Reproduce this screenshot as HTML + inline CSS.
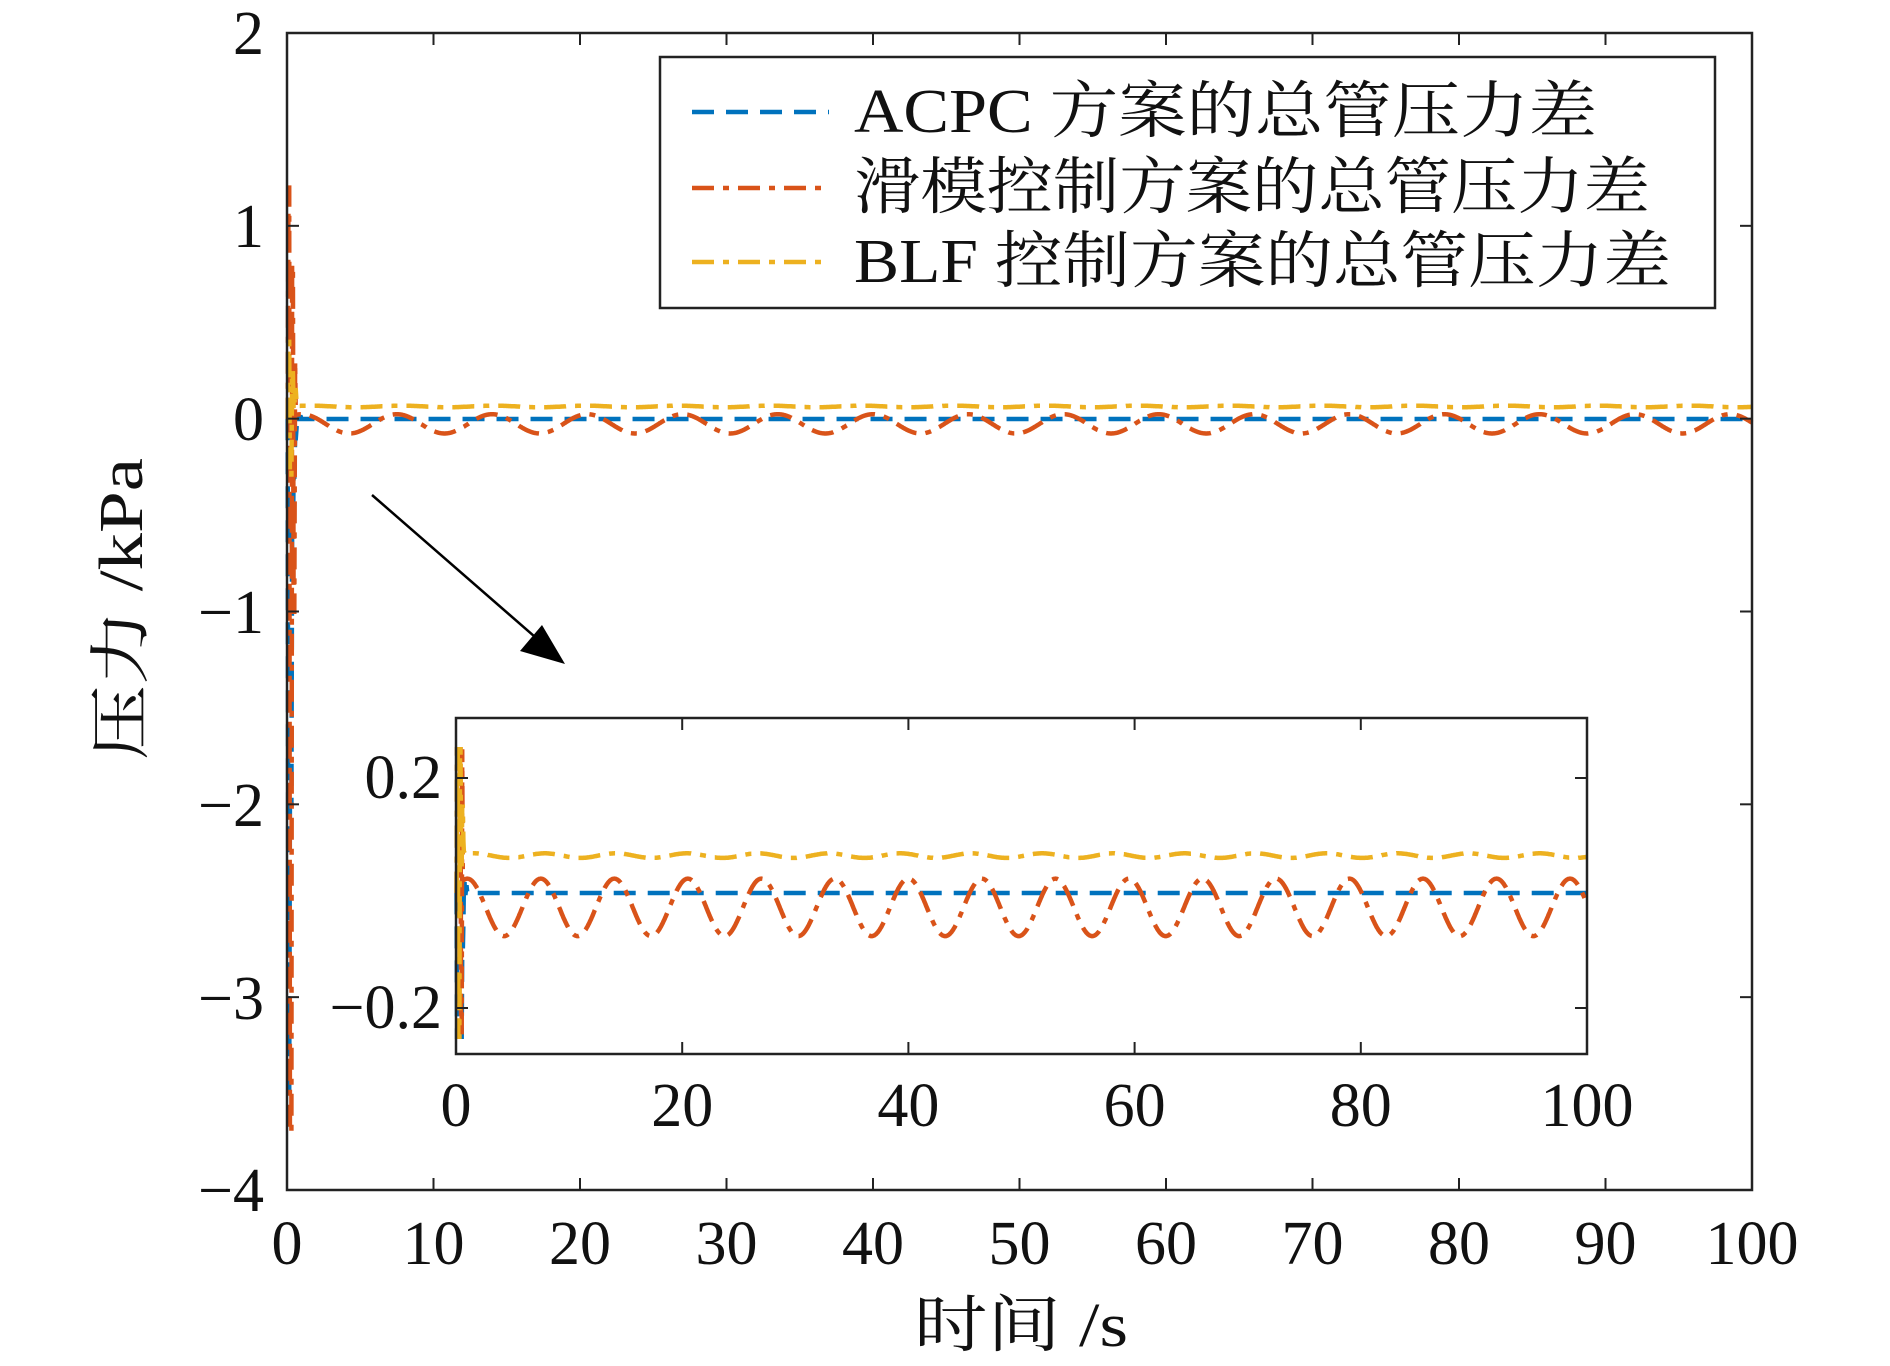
<!DOCTYPE html>
<html><head><meta charset="utf-8"><style>
body{margin:0;background:#fff;}
svg text{font-family:"Liberation Serif","Noto Serif CJK SC",serif;fill:#111;}
</style></head><body>
<svg id="s" width="1890" height="1361" viewBox="0 0 1890 1361" xmlns="http://www.w3.org/2000/svg">
<rect width="1890" height="1361" fill="#fff"/>
<g id="main"></g>
<g id="ticks" stroke="#222" stroke-width="2"></g>
<rect x="287" y="33" width="1465" height="1157" fill="none" stroke="#222" stroke-width="2.5"/>
<g font-size="62" text-anchor="end">
<text x="264" y="54">2</text><text x="264" y="247">1</text><text x="264" y="440">0</text>
<text x="264" y="633">−1</text><text x="264" y="826">−2</text><text x="264" y="1019">−3</text><text x="264" y="1211">−4</text>
</g>
<g id="xl" font-size="62" text-anchor="middle"></g>
<text x="1021" y="1346" font-size="62" text-anchor="middle" textLength="214" lengthAdjust="spacingAndGlyphs">时间 /s</text>
<text transform="translate(142,609) rotate(-90)" font-size="62" text-anchor="middle" textLength="302" lengthAdjust="spacingAndGlyphs">压力 /kPa</text>
<rect x="660" y="57" width="1055" height="251" fill="#fff" stroke="#222" stroke-width="2.5"/>
<line x1="692" y1="112" x2="829" y2="112" stroke="#0072BD" stroke-width="4.5" stroke-dasharray="22,12"/>
<line x1="692" y1="188" x2="829" y2="188" stroke="#D95319" stroke-width="4.5" stroke-dasharray="22,9,6,9"/>
<line x1="692" y1="262" x2="829" y2="262" stroke="#EDB120" stroke-width="4.5" stroke-dasharray="22,9,6,9"/>
<g font-size="62"><text x="854" y="132" textLength="743" lengthAdjust="spacingAndGlyphs">ACPC 方案的总管压力差</text>
<text x="854" y="208" textLength="796" lengthAdjust="spacingAndGlyphs">滑模控制方案的总管压力差</text>
<text x="854" y="282" textLength="817" lengthAdjust="spacingAndGlyphs">BLF 控制方案的总管压力差</text></g>
<line x1="372" y1="495" x2="550" y2="650" stroke="#000" stroke-width="2.5"/>
<polygon points="565,664 520,651 542,625" fill="#000"/>
<rect x="456" y="718" width="1131" height="336" fill="#fff"/>
<g id="inset"></g>
<g id="iticks" stroke="#222" stroke-width="2"></g>
<rect x="456" y="718" width="1131" height="336" fill="none" stroke="#222" stroke-width="2.5"/>
<g font-size="62" text-anchor="end"><text x="442" y="798">0.2</text><text x="442" y="1028">−0.2</text></g>
<g id="ixl" font-size="62" text-anchor="middle"></g>
</svg>
<script>
const NS="http://www.w3.org/2000/svg";
function el(p,t,a,txt){const e=document.createElementNS(NS,t);for(const k in a)e.setAttribute(k,a[k]);if(txt!==undefined)e.textContent=txt;document.getElementById(p).appendChild(e);}
for(let i=0;i<=10;i++){const x=287+i*146.5;el("ticks","line",{x1:x,y1:1190,x2:x,y2:1178});el("ticks","line",{x1:x,y1:33,x2:x,y2:45});el("xl","text",{x:x,y:1264},String(i*10));}
for(let j=0;j<=6;j++){const y=33+j*192.83;el("ticks","line",{x1:287,y1:y,x2:299,y2:y});el("ticks","line",{x1:1752,y1:y,x2:1740,y2:y});}
for(let i=0;i<=5;i++){const x=456+i*226.2;el("iticks","line",{x1:x,y1:1054,x2:x,y2:1042});el("iticks","line",{x1:x,y1:718,x2:x,y2:730});el("ixl","text",{x:x,y:1126},String(i*20));}
[778,1008].forEach(y=>{el("iticks","line",{x1:456,y1:y,x2:468,y2:y});el("iticks","line",{x1:1587,y1:y,x2:1575,y2:y});});
function red(t){if(t<0.6)return [0,1.2,-3.7,0.8,-1,0.3,-0.2][Math.floor(t/0.1)];return -0.025+0.05*Math.cos(2*Math.PI*(t-7.5)/6.5);}
function blue(t){if(t<1.2)return [0,-3.5,-2,-0.6,-0.3,-0.1,-0.05,0.02,0,0.01,0,0][Math.floor(t/0.1)];return 0;}
function yel(t){if(t<0.8)return [0,0.4,-0.3,0.25,0.05,0.15,0.09,0.07][Math.floor(t/0.1)];return 0.065+0.004*Math.sin(t);}
function path(f,X,Y,clip){let d="";for(let t=0;t<=100;t+=0.05){let v=f(t);if(clip)v=Math.max(-0.25,Math.min(0.25,v));d+=(d?"L":"M")+X(t).toFixed(1)+","+Y(v).toFixed(1);}return d;}
const mX=t=>287+t*14.65,mY=v=>419-v*192.83;
const iX=t=>456+t*11.31,iY=v=>893-v*575;
const S=[[blue,"#0072BD","22,12"],[red,"#D95319","22,9,6,9"],[yel,"#EDB120","22,9,6,9"]];
S.forEach(s=>{el("main","path",{d:path(s[0],mX,mY),fill:"none",stroke:s[1],"stroke-width":4.5,"stroke-dasharray":s[2]});
el("inset","path",{d:path(s[0],iX,iY,true),fill:"none",stroke:s[1],"stroke-width":4.5,"stroke-dasharray":s[2]});});
</script>
</body></html>
